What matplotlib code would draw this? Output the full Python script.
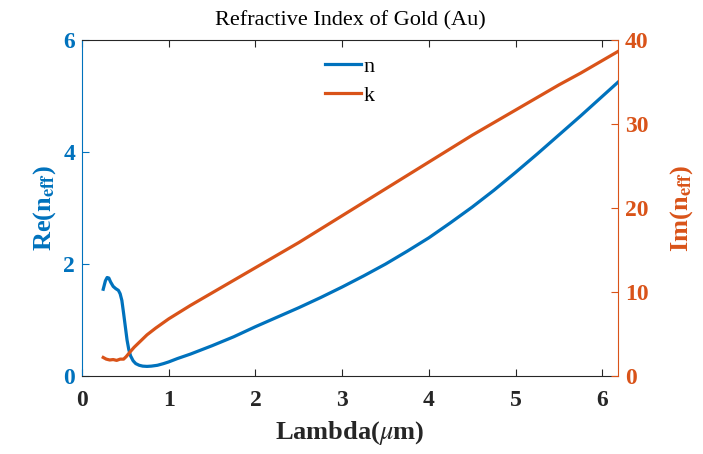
import numpy as np
import matplotlib
matplotlib.use("Agg")
import matplotlib.pyplot as plt

# ==== data ====
lam_n = [0.245, 0.27, 0.29, 0.31, 0.33, 0.36, 0.39, 0.42, 0.44, 0.46, 0.48,
         0.50, 0.52, 0.54, 0.56, 0.59, 0.62, 0.66, 0.70, 0.75, 0.80, 0.87,
         0.94, 1.0, 1.1, 1.25, 1.5, 1.75, 2.0, 2.25, 2.5, 2.75, 3.0, 3.25,
         3.5, 3.75, 4.0, 4.25, 4.5, 4.75, 5.0, 5.25, 5.5, 5.75, 6.0, 6.2]
n_vals = [1.55, 1.70, 1.76, 1.75, 1.68, 1.60, 1.56, 1.53, 1.47, 1.35, 1.12,
          0.88, 0.64, 0.47, 0.36, 0.27, 0.22, 0.19, 0.175, 0.17, 0.175, 0.19,
          0.22, 0.25, 0.31, 0.39, 0.54, 0.70, 0.88, 1.05, 1.22, 1.40, 1.59, 1.79,
          2.00, 2.23, 2.47, 2.74, 3.02, 3.32, 3.64, 3.97, 4.31, 4.65, 5.00, 5.28]

lam_k = [0.245, 0.28, 0.32, 0.36, 0.40, 0.44, 0.48, 0.51, 0.55, 0.60, 0.65,
         0.70, 0.75, 0.85, 1.0, 1.25, 1.5, 1.75, 2.0, 2.25, 2.5, 2.75, 3.0,
         3.25, 3.5, 3.75, 4.0, 4.25, 4.5, 4.75, 5.0, 5.25, 5.5, 5.75, 6.0, 6.2]
k_vals = [2.2, 2.0, 1.9, 1.95, 1.85, 2.0, 2.0, 2.3, 2.8, 3.4, 3.9,
          4.4, 4.9, 5.7, 6.8, 8.4, 9.9, 11.4, 12.9, 14.4, 15.9, 17.5, 19.1,
          20.7, 22.3, 23.9, 25.5, 27.1, 28.7, 30.2, 31.7, 33.2, 34.7, 36.1, 37.6, 38.8]

BLUE = "#0072BD"
ORANGE = "#D95319"
DARK = "#262626"

plt.rcParams["font.family"] = ["Liberation Serif", "DejaVu Serif"]
plt.rcParams["mathtext.fontset"] = "stix"

fig = plt.figure(figsize=(7.03, 4.54), dpi=100)
ax1 = fig.add_axes([0.1166, 0.172, 0.7624, 0.739])
ax2 = ax1.twinx()

ln1, = ax1.plot(lam_n, n_vals, color=BLUE, lw=2.3, label="n")
ln2, = ax2.plot(lam_k, k_vals, color=ORANGE, lw=2.3, label="k")

ax1.set_xlim(0, 6.18)
ax1.set_ylim(0, 6)
ax2.set_ylim(0, 40)
ax1.set_xticks(range(7))
ax1.set_yticks([0, 2, 4, 6])
ax2.set_yticks([0, 10, 20, 30, 40])

for sp in ["top", "bottom"]:
    ax1.spines[sp].set_color(DARK)
ax1.spines["left"].set_color(BLUE)
ax1.spines["right"].set_visible(False)
for sp in ["top", "bottom", "left"]:
    ax2.spines[sp].set_visible(False)
ax2.spines["right"].set_color(ORANGE)

ax1.tick_params(axis="x", direction="in", top=True, colors=DARK, length=5,
                labelsize=17, pad=10)
ax1.tick_params(axis="y", direction="in", colors=BLUE, length=5,
                labelsize=17, pad=5)
ax2.tick_params(axis="y", direction="in", colors=ORANGE, length=5,
                labelsize=17, pad=5)
for lab in ax1.get_xticklabels() + ax1.get_yticklabels() + ax2.get_yticklabels():
    lab.set_fontweight("bold")

ax1.set_xlabel(r"Lambda($\mu$m)", fontsize=19, fontweight="bold", color=DARK,
               labelpad=6)
ax1.set_ylabel(r"Re(n$_{\mathbf{eff}}$)", fontsize=19, fontweight="bold",
               color=BLUE, labelpad=4)
ax2.set_ylabel(r"Im(n$_{\mathbf{eff}}$)", fontsize=19, fontweight="bold",
               color=ORANGE, labelpad=14)
ax1.set_title("Refractive Index of Gold (Au)", fontsize=16, color="black", pad=11)

ax1.legend([ln1, ln2], ["n", "k"], loc="upper center", frameon=False,
           fontsize=16, handlelength=1.6, handletextpad=0.15, borderaxespad=0.3,
           labelspacing=0.4)

fig.savefig("out.png", dpi=100)
